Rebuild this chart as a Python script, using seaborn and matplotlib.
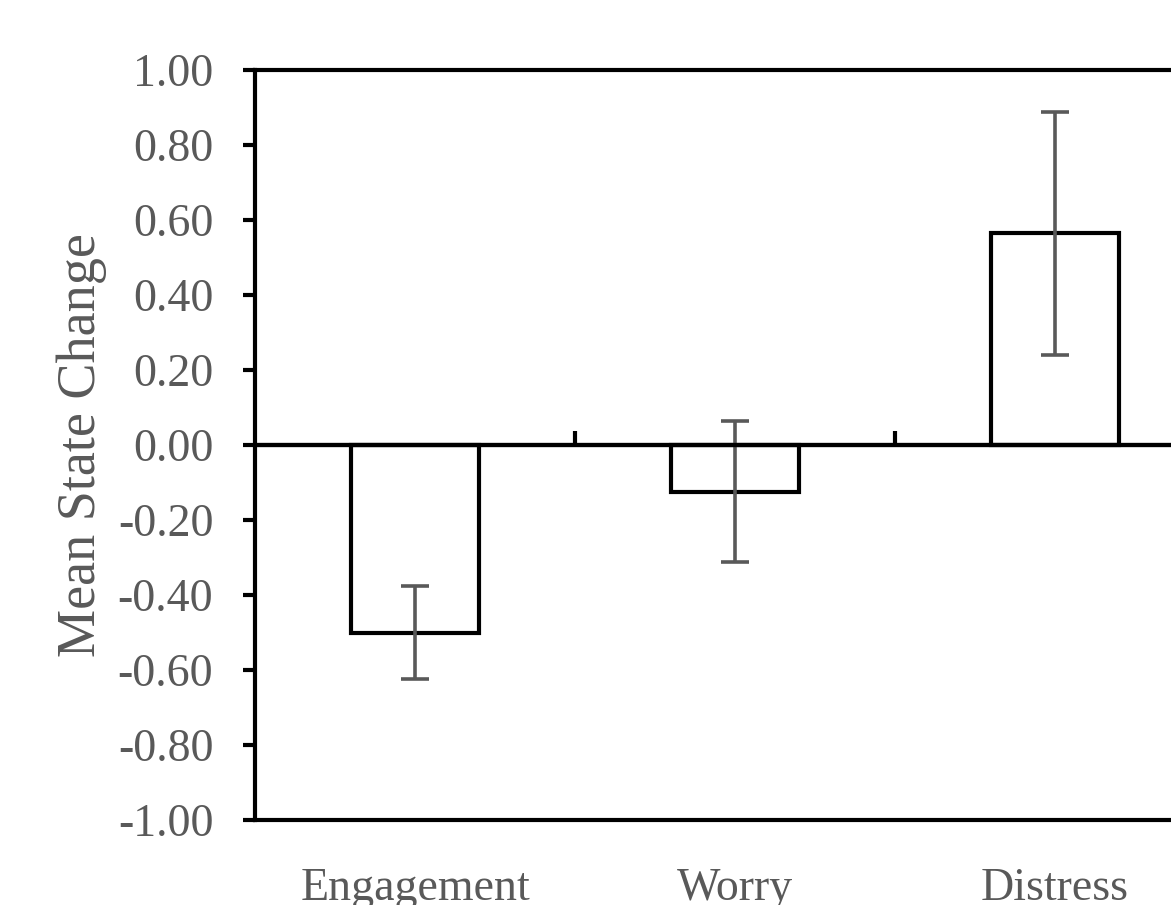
import matplotlib
matplotlib.use("Agg")
import matplotlib.pyplot as plt
import seaborn as sns
import pandas as pd
import numpy as np

categories = ["Engagement", "Worry", "Distress"]
means = [-0.50, -0.125, 0.565]
errors = [0.125, 0.188, 0.324]
yticks = [-1.0, -0.8, -0.6, -0.4, -0.2, 0.0, 0.2, 0.4, 0.6, 0.8, 1.0]

sns.set_style("white")
plt.rcParams['font.family'] = ['Liberation Serif', 'DejaVu Serif']

df = pd.DataFrame({"category": categories, "mean": means})

fig = plt.figure(figsize=(11.71, 9.05), dpi=100)
ax = fig.add_axes([255/1171, 1 - 820/905, (1215 - 255)/1171, (820 - 70)/905])

sns.barplot(data=df, x="category", y="mean", ax=ax, color="white",
            edgecolor="black", linewidth=3, width=0.4, errorbar=None, zorder=3)
pos = np.arange(len(categories))
ax.errorbar(pos, means, yerr=errors, fmt="none", ecolor="#595959",
            elinewidth=2.6, capsize=10, capthick=2.6, zorder=4)

ax.set_xlim(-0.5, len(categories) - 0.5)
ax.set_ylim(-1.0, 1.0)
ax.set_yticks(yticks)
ax.set_yticklabels([f"{v:.2f}" for v in yticks])
ax.tick_params(axis="y", direction="out", length=9, width=3, color="black",
               pad=21, labelsize=33, labelcolor="#595959", left=True)
ax.tick_params(axis="x", length=0, pad=34, labelsize=33, labelcolor="#595959")
ax.set_xlabel("")
ax.set_ylabel("Mean State Change", fontsize=39, color="#595959", labelpad=8)

for s in ["left", "top", "bottom", "right"]:
    ax.spines[s].set_visible(True)
    ax.spines[s].set_color("black")
    ax.spines[s].set_linewidth(3)

# zero line with category boundary ticks
ax.axhline(0, color="black", linewidth=3, zorder=5)
sec = ax.secondary_xaxis(0.5)
sec.set_xticks(pos[:-1] + 0.5)
sec.set_xticklabels([])
sec.tick_params(axis="x", direction="out", length=10, width=3, color="black")
for s in sec.spines.values():
    s.set_linewidth(3)
    s.set_color("black")
sec.set_zorder(5)

fig.savefig("out.png", dpi=100)
